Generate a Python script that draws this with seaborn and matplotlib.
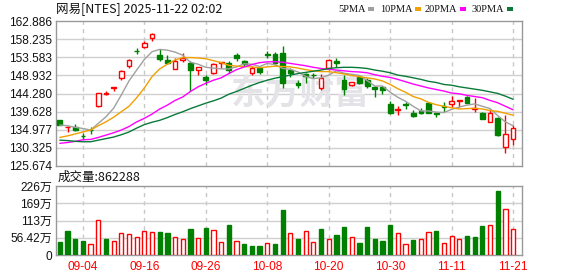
import numpy as np
import pandas as pd
import matplotlib
matplotlib.use("Agg")
import matplotlib.pyplot as plt
import seaborn as sns
from matplotlib.patches import Rectangle

# ---------------- data ----------------
dates = [d for d in pd.bdate_range("2025-08-29", "2025-11-21") if d.strftime("%m-%d") != "09-01"]
date_labels = [d.strftime("%m-%d") for d in dates]

opens = [137.5, 135.6, 135.8, 133.5, 135.0, 141.1, 144.1, 145.7, 148.3, 151.4,
         155.3, 156.3, 158.4, 154.2, 152.9, 150.6, 152.9, 152.2, 150.3, 148.6,
         149.6, 152.1, 152.0, 154.2, 152.6, 149.5, 150.7, 154.3, 154.3, 154.7,
         150.3, 147.1, 149.2, 149.0, 145.6, 150.8, 152.5, 147.8, 146.5, 148.6,
         147.7, 145.9, 146.0, 141.6, 140.1, 141.7, 139.2, 139.8, 141.9, 139.2,
         141.2, 141.5, 142.4, 143.5, 140.2, 139.3, 137.0, 138.1, 130.6, 132.5]
highs = [137.6, 135.9, 136.4, 134.1, 135.6, 144.5, 145.0, 146.0, 150.2, 153.1,
         155.9, 157.7, 159.9, 155.6, 154.1, 153.3, 154.6, 152.6, 151.2, 149.0,
         152.1, 152.4, 152.65, 154.6, 153.0, 151.4, 151.2, 155.2, 155.0, 156.5,
         150.75, 147.8, 149.5, 149.5, 149.3, 153.2, 153.4, 149.0, 147.3, 148.9,
         148.3, 146.1, 146.2, 142.3, 141.1, 142.2, 140.0, 140.6, 142.1, 139.6,
         142.2, 143.6, 142.6, 143.7, 143.0, 139.5, 140.2, 138.2, 138.8, 136.2]
lows = [136.1, 134.4, 134.6, 132.5, 133.9, 140.7, 143.8, 144.9, 147.8, 150.9,
        154.5, 155.9, 157.8, 152.7, 151.85, 150.5, 152.45, 145.0, 149.0, 146.5,
        149.2, 150.9, 149.6, 152.65, 151.4, 148.9, 149.4, 153.5, 151.7, 145.6,
        148.6, 145.8, 147.0, 148.2, 145.3, 150.4, 151.0, 143.9, 146.3, 146.6,
        145.6, 143.5, 144.1, 139.0, 138.8, 140.3, 138.2, 138.9, 139.3, 138.2,
        139.6, 140.9, 140.9, 141.9, 139.6, 137.7, 136.9, 133.5, 129.1, 131.1]
closes = [136.2, 135.8, 134.9, 133.3, 134.8, 144.4, 144.3, 145.9, 150.1, 152.9,
          155.1, 157.3, 159.5, 153.1, 152.0, 152.6, 153.3, 150.3, 151.0, 147.8,
          151.8, 152.3, 150.3, 153.5, 151.8, 150.9, 149.7, 154.2, 152.0, 146.9,
          149.6, 146.4, 148.8, 148.9, 148.2, 152.9, 152.1, 145.4, 147.2, 146.9,
          146.2, 145.5, 145.3, 139.3, 140.3, 141.4, 138.6, 139.3, 139.4, 138.9,
          140.7, 142.4, 142.6, 141.9, 140.5, 137.7, 139.2, 133.6, 134.0, 135.4]

ma5 = [136.2, 136.0, 135.6, 135.3, 134.9, 136.6, 138.3, 140.5, 143.9, 147.5,
       150.3, 153.0, 155.0, 155.6, 155.4, 154.9, 154.1, 152.3, 151.8, 151.0,
       150.8, 150.6, 150.6, 151.1, 151.9, 151.8, 151.2, 152.0, 151.7, 150.7,
       150.5, 149.8, 148.7, 148.1, 148.3, 149.0, 150.1, 149.5, 149.2, 148.9,
       147.6, 146.2, 146.2, 144.6, 143.3, 142.3, 141.0, 139.8, 139.8, 139.5,
       139.4, 140.2, 140.8, 141.3, 141.6, 141.0, 140.4, 138.6, 137.0, 136.0]
ma10 = [133.0, 133.4, 133.9, 134.4, 134.9, 136.0, 137.0, 138.2, 139.6, 141.0,
        143.2, 145.7, 148.6, 150.6, 151.8, 152.9, 153.5, 153.5, 153.4, 153.2,
        152.7, 152.2, 151.5, 151.3, 151.2, 151.1, 150.9, 151.1, 151.3, 151.2,
        151.1, 150.8, 150.4, 150.1, 149.9, 149.9, 149.6, 149.3, 148.9, 148.6,
        148.3, 148.0, 147.5, 146.6, 145.5, 144.6, 143.5, 142.9, 142.0, 141.4,
        141.0, 140.6, 140.3, 140.4, 140.5, 140.3, 139.9, 139.7, 139.2, 138.7]
ma20 = [131.5, 131.7, 132.0, 132.4, 132.5, 133.0, 133.6, 134.2, 134.9, 135.8,
        137.0, 137.9, 139.0, 140.3, 141.3, 142.5, 143.4, 144.8, 146.0, 146.9,
        147.7, 148.3, 149.4, 150.4, 151.1, 151.7, 152.2, 152.4, 152.45, 152.3,
        152.0, 151.7, 151.4, 151.0, 150.7, 150.5, 150.3, 150.1, 149.9, 149.8,
        149.6, 149.1, 148.7, 148.4, 147.9, 147.3, 146.7, 146.2, 145.7, 145.3,
        144.9, 144.4, 144.2, 143.8, 143.5, 143.2, 142.5, 141.9, 141.0, 140.1]
ma30 = [132.3, 132.2, 132.0, 131.9, 131.9, 132.3, 132.7, 133.1, 133.7, 134.4,
        135.4, 136.3, 136.9, 137.4, 138.1, 138.9, 139.6, 140.4, 141.1, 141.8,
        142.4, 143.1, 144.1, 144.8, 145.6, 146.4, 147.1, 147.7, 148.2, 148.6,
        149.0, 149.4, 149.7, 150.0, 150.3, 150.7, 150.9, 151.0, 151.0, 150.9,
        150.7, 150.3, 150.0, 149.6, 149.0, 148.7, 148.3, 147.9, 147.4, 147.1,
        146.6, 146.4, 146.0, 145.7, 145.4, 145.1, 144.7, 144.3, 143.6, 142.8]

# volume in 万 (10k shares)
volumes = [43.6, 78.6, 52.4, 45.8, 35.0, 113.6, 52.4, 45.8, 71.0, 67.7,
           57.9, 77.6, 75.3, 75.3, 72.0, 57.9, 51.3, 85.2, 54.6, 88.4,
           80.8, 42.6, 98.3, 45.8, 36.0, 29.5, 29.5, 39.3, 36.0, 147.4,
           71.0, 51.3, 77.6, 42.6, 85.2, 51.3, 65.5, 91.7, 57.9, 39.3,
           91.7, 51.3, 45.8, 98.3, 71.0, 35.0, 49.1, 51.3, 74.3, 78.6,
           38.2, 62.2, 51.3, 62.2, 59.0, 95.0, 98.3, 210.6, 149.6, 86.2]
last_volume = 862288

price_ticks = [125.674, 130.325, 134.977, 139.628, 144.280, 148.932, 153.583, 158.235, 162.886]
vol_ticks = [0, 56.42, 113, 169, 226]
vol_tick_labels = ["0", "56.42万", "113万", "169万", "226万"]
ma_names = ["5PMA", "10PMA", "20PMA", "30PMA"]
title_text = "网易[NTES] 2025-11-22 02:02"

# ---------------- style ----------------
sns.set_style("white")
plt.rcParams["font.family"] = ["Liberation Sans", "Noto Sans CJK SC", "DejaVu Sans"]

RED = "#FF0000"
GREEN = "#008000"
ma_colors = ["#A0A0A0", "#F0A000", "#FF00FF", "#0A7A3A"]
GRID = "#D0D0D0"
BORDER = "#999999"

W, H = 578, 276
fig = plt.figure(figsize=(W / 100, H / 100), dpi=100)
fig.patch.set_facecolor("white")

L, R = 56, 522
ax = fig.add_axes([L / W, 1 - 166 / H, (R - L) / W, 145 / H])
axv = fig.add_axes([L / W, 1 - 255 / H, (R - L) / W, 69 / H])

n = len(closes)
idx = np.arange(n)
o = np.array(opens); c = np.array(closes); hi = np.array(highs); lo = np.array(lows)
up = c >= o

# ---------------- price panel ----------------
ax.set_xlim(-0.5, 60.16)
ax.set_ylim(price_ticks[0], price_ticks[-1])
ax.set_yticks(price_ticks)
ax.set_yticklabels([f"{t:.3f}" for t in price_ticks])
for t in price_ticks[1:-1]:
    ax.axhline(t, color=GRID, lw=1, zorder=0.5)

tick_pos = list(range(3, n, 8))
for p in tick_pos:
    ax.axvline(p, color="#C8C8C8", lw=1, ls=(0, (3, 3)), zorder=0.5)
    axv.axvline(p, color="#C8C8C8", lw=1, ls=(0, (3, 3)), zorder=0.5)

ax.text(0.525, 0.50, "东方财富", transform=ax.transAxes, ha="center", va="center",
        fontsize=25, fontweight="bold", color="#E4E4E8", family=["Noto Sans CJK SC"], zorder=0.6)

# wicks
ax.vlines(idx[up], lo[up], hi[up], colors=RED, lw=1, zorder=2)
ax.vlines(idx[~up], lo[~up], hi[~up], colors=GREEN, lw=1, zorder=2)
# bodies
bb = np.minimum(o, c)
bh = np.maximum(np.abs(c - o), 0.04)
ax.bar(idx[up], bh[up], bottom=bb[up], width=0.62, facecolor="white", edgecolor=RED, lw=1, zorder=3)
ax.bar(idx[~up], bh[~up], bottom=bb[~up], width=0.62, facecolor=GREEN, edgecolor=GREEN, lw=1, zorder=3)

ma_df = pd.DataFrame({"i": idx, "5PMA": ma5, "10PMA": ma10, "20PMA": ma20, "30PMA": ma30})
for name, col in zip(ma_names, ma_colors):
    sns.lineplot(data=ma_df, x="i", y=name, ax=ax, color=col, lw=1.0, zorder=4)

ax.set_xlabel(""); ax.set_ylabel("")
ax.tick_params(axis="y", length=0, pad=3, labelsize=8.6, labelcolor="#111111")
ax.tick_params(axis="x", length=0, labelbottom=False)
for s in ax.spines.values():
    s.set_color(BORDER); s.set_linewidth(1); s.set_visible(True)
ax.grid(False)

# ---------------- volume panel ----------------
prev = np.concatenate([[o[0]], c[:-1]])
vup = c >= prev
vol = np.array(volumes)
axv.bar(idx[vup], vol[vup], width=0.55, facecolor="white", edgecolor=RED, lw=1, zorder=3)
axv.bar(idx[~vup], vol[~vup], width=0.55, facecolor=GREEN, edgecolor=GREEN, lw=1, zorder=3)
axv.set_xlim(-0.5, 60.16)
axv.set_ylim(0, 226)
axv.set_yticks(vol_ticks)
axv.set_yticklabels(vol_tick_labels)
for t in vol_ticks[1:-1]:
    axv.axhline(t, color=GRID, lw=1, zorder=0.5)
axv.set_xticks(tick_pos)
axv.set_xticklabels([date_labels[p] for p in tick_pos])
axv.tick_params(axis="y", length=0, pad=3, labelsize=8.6, labelcolor="#111111")
axv.tick_params(axis="x", length=0, pad=4, labelsize=8.6, labelcolor=RED)
for s in axv.spines.values():
    s.set_color(BORDER); s.set_linewidth(1); s.set_visible(True)
axv.grid(False)

# ---------------- texts ----------------
fig.text(56 / W, 1 - 9 / H, title_text, ha="left", va="center", fontsize=9, color="#111111",
         family=["Noto Sans CJK SC", "DejaVu Sans"])
fig.text(58 / W, 1 - 177 / H, f"成交量:{last_volume}", ha="left", va="center", fontsize=9,
         color="#111111", family=["Noto Sans CJK SC", "DejaVu Sans"])

legend_x = [338, 380, 425, 472]
for name, col, lx in zip(ma_names, ma_colors, legend_x):
    t = fig.text(lx / W, 1 - 9 / H, name, ha="left", va="center", fontsize=7.5, color="#111111",
                 family=["Liberation Serif"])
    fig.canvas.draw()
    bb_ = t.get_window_extent()
    x1 = bb_.x1 + 2
    fig.patches.append(Rectangle((x1 / W, (H - 11) / H), 6 / W, 4 / H, transform=fig.transFigure,
                                 facecolor=col, edgecolor="none"))

fig.savefig("out.png", dpi=100, facecolor="white")
